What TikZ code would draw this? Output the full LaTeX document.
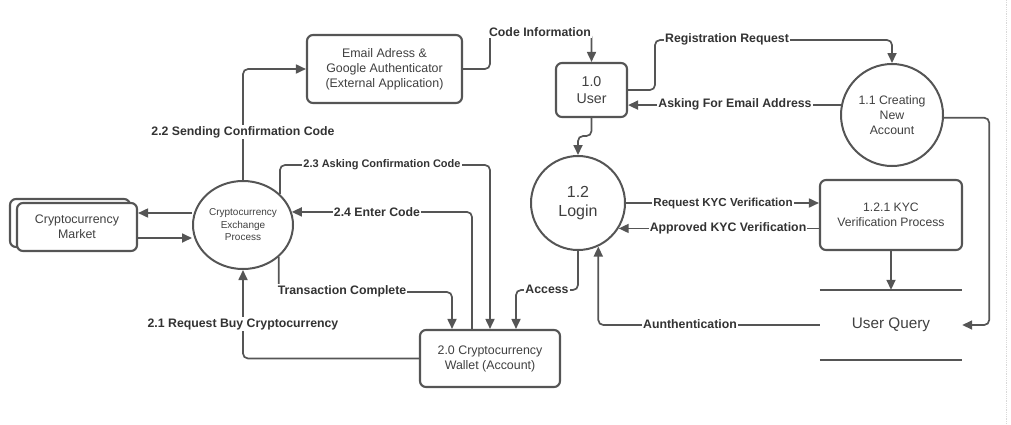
\documentclass[tikz,border=0pt]{standalone}
\usepackage{fontspec}
\setmainfont{Liberation Sans}
\usetikzlibrary{arrows.meta,shapes.geometric}
\definecolor{lc}{HTML}{555555}
\definecolor{tc}{HTML}{404040}
\definecolor{lt}{HTML}{333333}
\begin{document}
\begin{tikzpicture}[x=1pt,y=-1pt,
  every node/.style={text=tc},
  box/.style={draw=lc, line width=2.1pt, rounded corners=6pt, align=center, fill=white,
    font=\fontsize{12.4}{15}\selectfont, inner sep=0pt},
  proc/.style={draw=lc, line width=2pt, circle, align=center, inner sep=0pt, fill=white},
  flow/.style={draw=lc, line width=1.7pt, rounded corners=5pt, -{Triangle[length=10pt,width=9pt]}},
  lbl/.style={fill=white, inner sep=1pt, text=lt, font=\bfseries\fontsize{12.3}{14}\selectfont},
  slbl/.style={lbl, font=\bfseries\fontsize{11}{13}\selectfont},
]
\useasboundingbox (0,0) rectangle (1011,424);
\draw[gray!30, densely dotted, line width=0.8pt] (1006,0) -- (1006,424);

% nodes
\node[box, minimum width=120pt, minimum height=48pt] (mkb) at (70,223) {};
\node[box, minimum width=120pt, minimum height=48pt] (mk) at (77,227) {Cryptocurrency\\Market};
\node[draw=lc, line width=2pt, ellipse, minimum width=100pt, minimum height=88pt, inner sep=0pt,
  align=center, font=\fontsize{10}{12.5}\selectfont] (cep) at (243,225) {Cryptocurrency\\Exchange\\Process};
\node[box, minimum width=155pt, minimum height=68pt] (em) at (384.5,69) {Email Adress \&\\Google Authenticator\\(External Application)};
\node[box, minimum width=71pt, minimum height=54pt, font=\fontsize{14.2}{17}\selectfont] (us) at (591.5,90) {1.0\\User};
\node[proc, minimum size=102pt, font=\fontsize{12.3}{15}\selectfont] (c11) at (892,115) {1.1 Creating\\New\\Account};
\node[proc, minimum size=94pt, font=\fontsize{16}{19}\selectfont] (login) at (578,203) {1.2\\Login};
\node[box, minimum width=142pt, minimum height=70pt, font=\fontsize{12.2}{15}\selectfont] (kyc) at (891,215) {1.2.1 KYC\\Verification Process};
\node[minimum width=142pt, minimum height=70pt, inner sep=0pt, font=\fontsize{15.3}{18}\selectfont] (uq) at (891,325) {User Query};
\draw[lc, line width=2pt] (uq.north west) -- (uq.north east);
\draw[lc, line width=2pt] (uq.south west) -- (uq.south east);
\node[box, minimum width=140pt, minimum height=57pt] (wl) at (490,358.5) {2.0 Cryptocurrency\\Wallet (Account)};

% connectors
\draw[flow] ([yshift=12pt]cep.west) -- ([yshift=12pt]cep.west -| mk.east);
\draw[flow] ([yshift=-11pt]mk.east) -- ([yshift=-11pt]mk.east -| cep.west);
\draw[flow] (cep.north) |- (em.west);
\draw[flow] (em.east) -| (490,32) -| (us.north);
\draw[flow] (us.east) -| (655,40) -| (c11.north);
\draw[flow] (c11.169) -- (c11.169 -| us.east);
\draw[flow] (c11.-3) -| ([xshift=27pt]uq.east) -- (uq.east);
\draw[flow] (us.south) |- (login.north |- 0,136) -- (login.north);
\draw[flow] (login.east) -- (login.east -| kyc.west);
\draw[flow] (kyc.west |- login.-32) -- (login.-32);
\draw[flow] (kyc.south) -- (uq.north);
\draw[flow] (uq.west) -| (login.-65);
\draw[flow] (login.south) |- ([xshift=26pt]wl.north |- 0,290) -- ([xshift=26pt]wl.north);
\draw[flow] (wl.west) -| (cep.south);
\draw[flow] (cep.40) |- (wl.north |- 0,165) -- (wl.north);
\draw[flow] ([xshift=-18pt]wl.north) |- (cep.15);
\draw[flow] (cep.-42) |- ([xshift=-38pt]wl.north |- 0,292) -- ([xshift=-38pt]wl.north);

% labels
\node[lbl] (l22) at (243,132) {2.2 Sending Confirmation Code};
\node[lbl] (lci) at (540,32) {Code Information};
\node[lbl] (lrr) at (727,39) {Registration Request};
\node[lbl] (lae) at (735,104) {Asking For Email Address};
\node[lbl, font=\bfseries\fontsize{11.6}{14}\selectfont] (lrk) at (723,203) {Request KYC Verification};
\node[lbl] (lak) at (728,228) {Approved KYC Verification};
\node[lbl] (lau) at (690,324) {Aunthentication};
\node[lbl] (lac) at (547,289) {Access};
\node[lbl] (l21) at (243,324) {2.1 Request Buy Cryptocurrency};
\node[slbl] (l23) at (382,165) {2.3 Asking Confirmation Code};
\node[lbl] (l24) at (377,212) {2.4 Enter Code};
\node[lbl] (ltc) at (342,291) {Transaction Complete};
\end{tikzpicture}
\end{document}
